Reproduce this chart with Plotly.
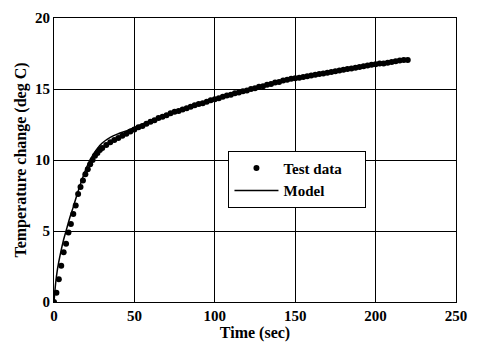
import plotly.graph_objects as go

# Test data (time in sec, temperature change in deg C)
test_t = [0, 1.5, 3, 4.5, 6, 7.5, 9, 10.5, 12, 13.5, 15, 16.5, 18, 19.5, 21, 22.5, 24, 25.5, 27, 28.5, 30,
          32.5, 35, 37.5, 40, 42.5, 45, 47.5, 50, 52.5, 55, 57.5, 60, 62.5, 65, 67.5, 70, 72.5, 75, 77.5,
          80, 82.5, 85, 87.5, 90, 92.5, 95, 97.5, 100, 102.5, 105, 107.5, 110, 112.5, 115, 117.5, 120,
          122.5, 125, 127.5, 130, 132.5, 135, 137.5, 140, 142.5, 145, 147.5, 150, 152.5, 155, 157.5, 160,
          162.5, 165, 167.5, 170, 172.5, 175, 177.5, 180, 182.5, 185, 187.5, 190, 192.5, 195, 197.5, 200,
          202.5, 205, 207.5, 210, 212.5, 215, 217.5, 220]
test_y = [0, 0.65, 1.6, 2.55, 3.5, 4.1, 4.9, 5.5, 6.2, 6.8, 7.6, 8.1, 8.55, 9.0, 9.35, 9.7, 10.0, 10.3, 10.5, 10.7, 10.85,
          11.05, 11.25, 11.4, 11.55, 11.7, 11.85, 12.0, 12.15, 12.3, 12.4, 12.55, 12.7, 12.8, 12.95, 13.05, 13.15, 13.3, 13.4, 13.45,
          13.55, 13.65, 13.75, 13.85, 13.95, 14.0, 14.1, 14.2, 14.28, 14.35, 14.45, 14.55, 14.6, 14.7, 14.75, 14.85, 14.9,
          15.0, 15.05, 15.15, 15.2, 15.3, 15.35, 15.45, 15.5, 15.6, 15.65, 15.72, 15.75, 15.8, 15.85, 15.9, 15.95,
          16.0, 16.05, 16.1, 16.15, 16.2, 16.25, 16.3, 16.35, 16.4, 16.45, 16.5, 16.55, 16.6, 16.65, 16.7, 16.75,
          16.8, 16.8, 16.85, 16.9, 16.95, 17.0, 17.05, 17.05]

# Model curve
model_t = [0, 1, 2, 4, 6, 8, 10, 12, 15, 18, 20, 22, 25, 28, 30, 35, 40, 45, 50, 60, 70, 80, 90, 100,
           120, 140, 160, 180, 200, 220]
model_y = [0, 1.3, 2.2, 3.4, 4.4, 5.2, 6.0, 6.7, 7.8, 8.8, 9.4, 9.9, 10.5, 10.95, 11.2, 11.6, 11.85, 12.05,
           12.3, 12.75, 13.15, 13.55, 13.95, 14.3, 14.9, 15.45, 15.95, 16.4, 16.8, 17.1]

x_ticks = [0, 50, 100, 150, 200, 250]
y_ticks = [0, 5, 10, 15, 20]

FONT = "Liberation Serif"

fig = go.Figure()
fig.add_trace(go.Scatter(x=test_t, y=test_y, mode="markers",
                         name="<b>Test data</b>&nbsp;&nbsp;&nbsp;&nbsp;&nbsp;",
                         marker=dict(color="black", size=6)))
fig.add_trace(go.Scatter(x=model_t, y=model_y, mode="lines", name="<b>Model</b>",
                         line=dict(color="black", width=1.5, shape="spline")))

axis_common = dict(showgrid=True, gridcolor="black", gridwidth=1, zeroline=False,
                   showline=True, linecolor="black", linewidth=1, mirror=True,
                   ticks="", ticklabeloverflow="allow",
                   tickfont=dict(family=FONT, size=15, color="black", weight="bold"))

fig.update_layout(
    width=477, height=345,
    margin=dict(l=54, r=10, t=14, b=42),
    paper_bgcolor="white", plot_bgcolor="white",
    font=dict(family=FONT, color="black"),
    showlegend=True,
    legend=dict(x=0.434, y=0.533, xanchor="left", yanchor="top",
                bgcolor="white", bordercolor="black", borderwidth=1,
                font=dict(family=FONT, size=15, color="black"),
                itemwidth=44, tracegroupgap=0),
    xaxis=dict(range=[0, 250], tickvals=x_ticks,
               title=dict(text="<b>Time (sec)</b>", font=dict(family=FONT, size=16), standoff=0),
               **axis_common),
    yaxis=dict(range=[0, 20], tickvals=y_ticks,
               title=dict(text="<b>Temperature change (deg C)</b>", font=dict(family=FONT, size=16), standoff=4),
               **axis_common),
)

fig.write_html("out.html")
